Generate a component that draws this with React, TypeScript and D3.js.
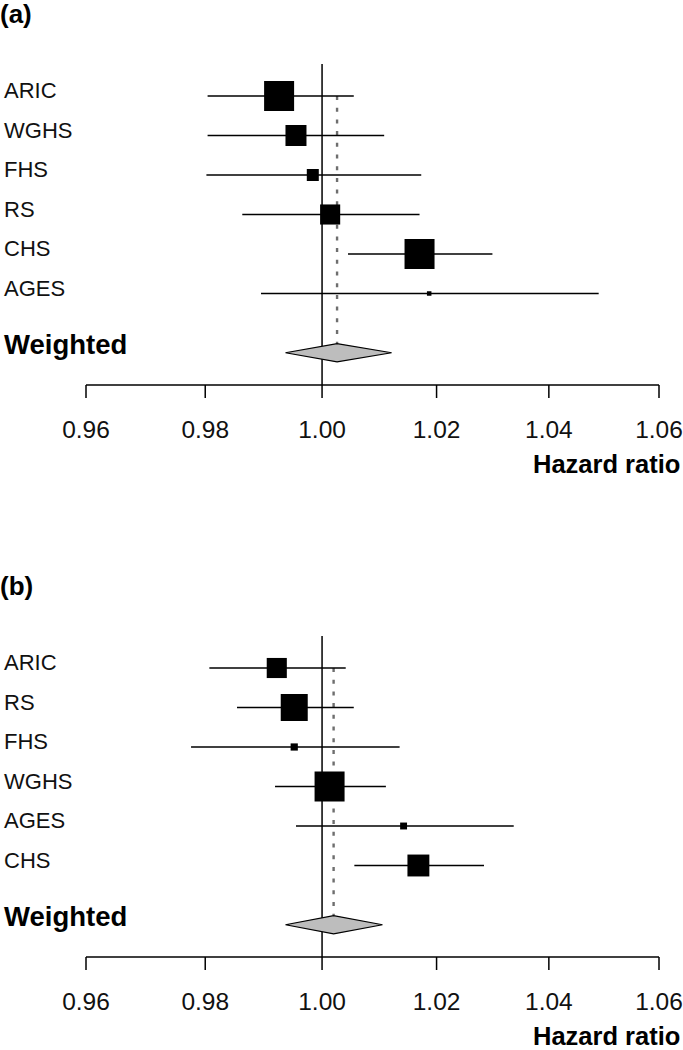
import React from "react";
import * as d3 from "d3";

// ---- Data ----
const tickValues = [0.96, 0.98, 1.0, 1.02, 1.04, 1.06];

// Panel (a)
const studiesA = ["ARIC", "WGHS", "FHS", "RS", "CHS", "AGES"];
const hrA = [0.9926, 0.9955, 0.9984, 1.0014, 1.017, 1.0187];
const lowerA = [0.9804, 0.9804, 0.9802, 0.9863, 1.0045, 0.9895];
const upperA = [1.0055, 1.0108, 1.0173, 1.017, 1.0299, 1.049];
const weightA = [1.0, 0.7, 0.4, 0.67, 1.0, 0.15];
const pooledA = [0.9937, 1.0026, 1.0121]; // lower, estimate, upper

// Panel (b)
const studiesB = ["ARIC", "RS", "FHS", "WGHS", "AGES", "CHS"];
const hrB = [0.9922, 0.9952, 0.9952, 1.0013, 1.0142, 1.0168];
const lowerB = [0.9807, 0.9854, 0.9776, 0.9919, 0.9955, 1.0056];
const upperB = [1.0041, 1.0055, 1.0135, 1.0111, 1.0337, 1.0284];
const weightB = [0.67, 0.9, 0.24, 1.0, 0.23, 0.73];
const pooledB = [0.9937, 1.002, 1.0105];

const FONT = "'Liberation Sans', Arial, Helvetica, sans-serif";

const W = 683;
const H = 1050;

const x = d3.scaleLog().domain([0.96, 1.06]).range([86, 659]);
const rowY = d3.scaleLinear().domain([0, 1]).range([96, 135.5]);
const boxSize = d3.scaleLinear().domain([0, 1]).range([0, 30]);
const fmt = d3.format(".2f");

type PanelProps = {
  tag: string;
  offsetY: number;
  studies: string[];
  hr: number[];
  lower: number[];
  upper: number[];
  weight: number[];
  pooled: number[];
};

function Panel({ tag, offsetY, studies, hr, lower, upper, weight, pooled }: PanelProps) {
  const pooledRow = studies.length + 0.5;
  const py = rowY(pooledRow);
  const dh = 9.2;
  const axisY = 385;
  const diamond = [
    [x(pooled[0]), py],
    [x(pooled[1]), py - dh],
    [x(pooled[2]), py],
    [x(pooled[1]), py + dh],
  ];
  return (
    <g transform={`translate(0,${offsetY})`}>
      <text x={0} y={22.5} fontFamily={FONT} fontWeight="bold" fontSize={26} fill="#000">
        {tag}
      </text>

      {/* null line */}
      <line x1={x(1)} x2={x(1)} y1={64} y2={axisY} stroke="#000" strokeWidth={1.5} />

      {/* pooled estimate dotted line */}
      <line
        x1={x(pooled[1])}
        x2={x(pooled[1])}
        y1={rowY(0)}
        y2={py - dh}
        stroke="#6e6e6e"
        strokeWidth={2.4}
        strokeDasharray="4,7.7"
      />

      {studies.map((s, i) => {
        const y = rowY(i);
        const sz = boxSize(weight[i]);
        return (
          <g key={s}>
            <text x={4} y={y + 2} fontFamily={FONT} fontSize={22} fill="#111">
              {s}
            </text>
            <line x1={x(lower[i])} x2={x(upper[i])} y1={y} y2={y} stroke="#000" strokeWidth={1.7} />
            <rect x={x(hr[i]) - sz / 2} y={y - sz / 2} width={sz} height={sz} fill="#000" />
          </g>
        );
      })}

      <text x={4} y={py + 1.6} fontFamily={FONT} fontWeight="bold" fontSize={27.5} fill="#000">
        Weighted
      </text>
      <polygon
        points={diamond.map((p) => p.join(",")).join(" ")}
        fill="#bdbdbd"
        stroke="#000"
        strokeWidth={1.2}
      />

      {/* axis */}
      <line x1={x(0.96)} x2={x(1.06)} y1={axisY} y2={axisY} stroke="#000" strokeWidth={1.5} />
      {tickValues.map((t) => (
        <g key={t}>
          <line x1={x(t)} x2={x(t)} y1={axisY} y2={axisY + 13} stroke="#000" strokeWidth={1.5} />
          <text
            x={x(t)}
            y={438}
            textAnchor="middle"
            fontFamily={FONT}
            fontSize={24.5}
            fill="#111"
          >
            {fmt(t)}
          </text>
        </g>
      ))}
      <text x={533} y={473} fontFamily={FONT} fontWeight="bold" fontSize={25.5} fill="#000">
        Hazard ratio
      </text>
    </g>
  );
}

export default function App() {
  return (
    <svg
      width={W}
      height={H}
      viewBox={`0 0 ${W} ${H}`}
      style={{ position: "absolute", left: 0, top: 0, background: "#fff" }}
    >
      <rect x={0} y={0} width={W} height={H} fill="#fff" />
      <Panel
        tag="(a)"
        offsetY={0}
        studies={studiesA}
        hr={hrA}
        lower={lowerA}
        upper={upperA}
        weight={weightA}
        pooled={pooledA}
      />
      <Panel
        tag="(b)"
        offsetY={572}
        studies={studiesB}
        hr={hrB}
        lower={lowerB}
        upper={upperB}
        weight={weightB}
        pooled={pooledB}
      />
    </svg>
  );
}
